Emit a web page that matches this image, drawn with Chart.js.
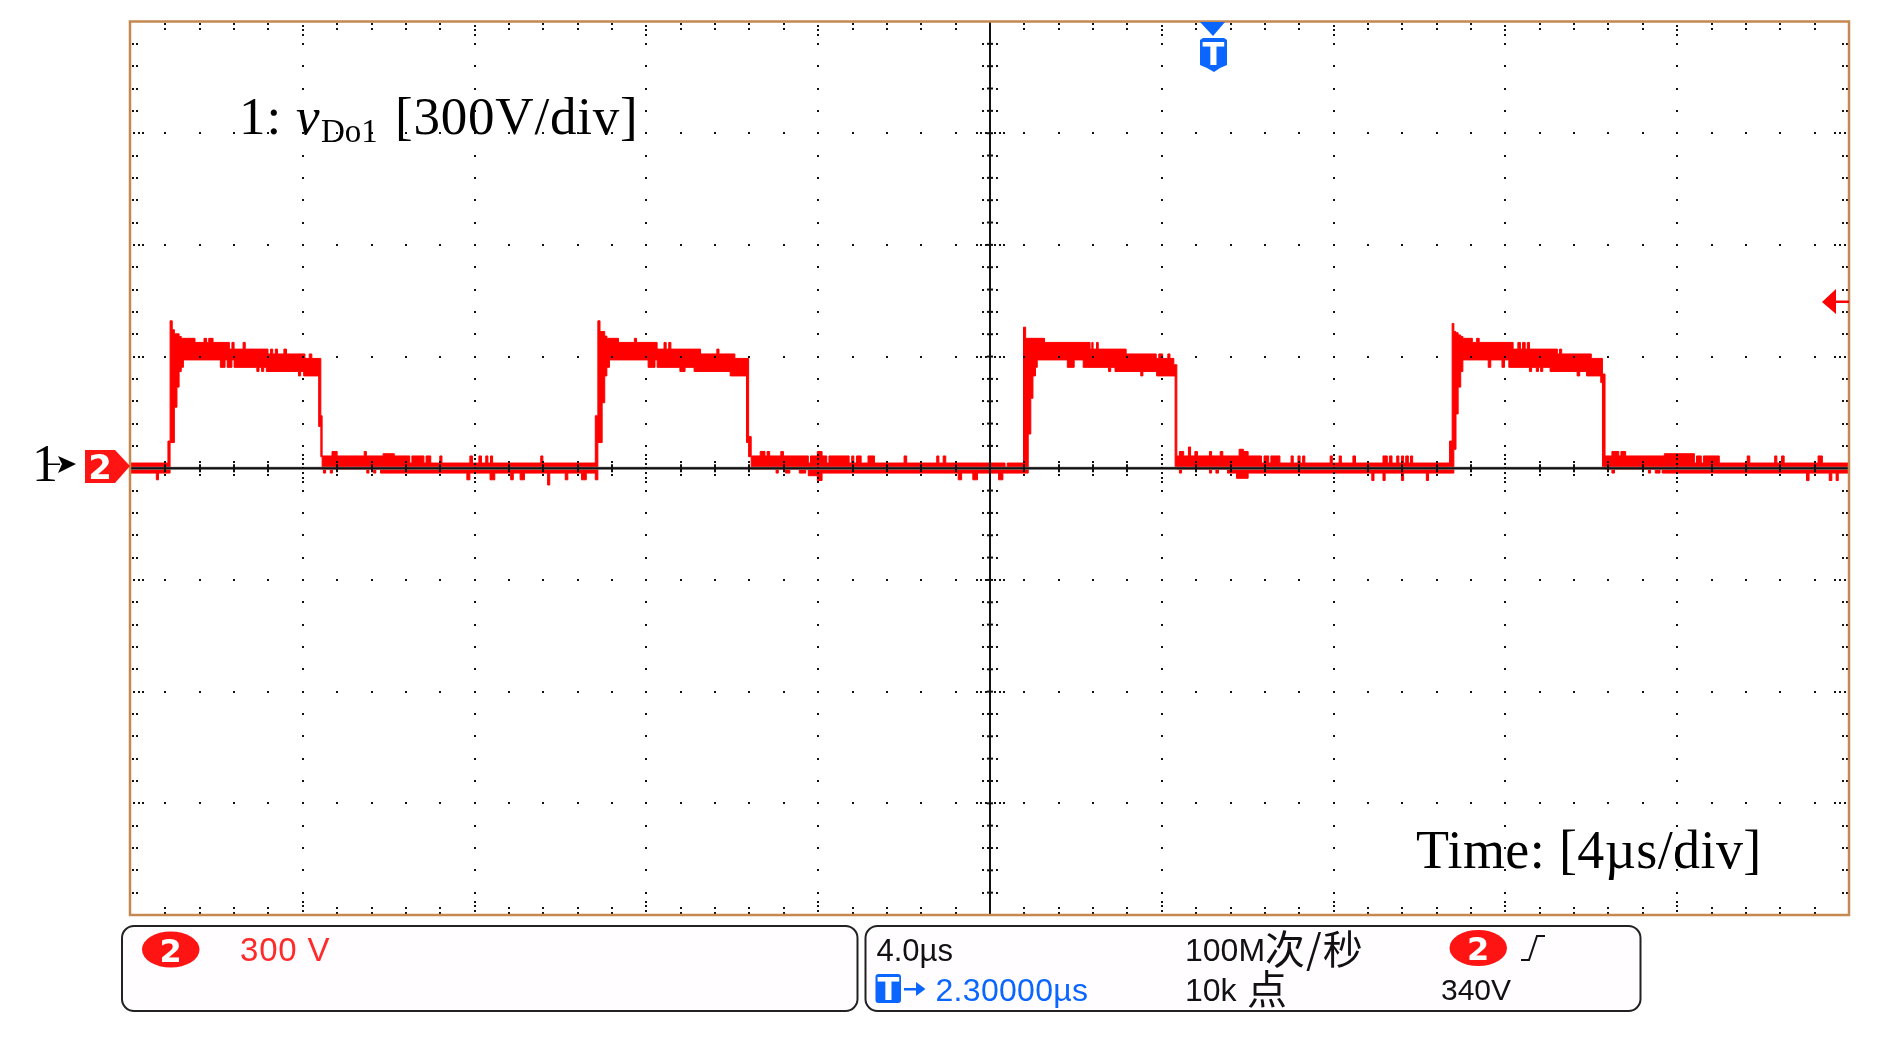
<!DOCTYPE html>
<html><head><meta charset="utf-8">
<style>html,body{margin:0;padding:0;background:#fff}canvas{display:block}</style>
<script src="https://cdn.jsdelivr.net/npm/chart.js@4"></script>
</head><body><canvas id="c" width="1886" height="1045"></canvas>
<script>
// Envelope of the persisted trace. Time in µs, voltage in V. Each value holds until the next time.
const upperTime = [-20,-19.14,-19.09,-19.04,-18.99,-18.88,-18.83,-18.51,-18.30,-18.24,-18.19,-18.09,-17.71,-17.65,-17.60,-17.39,-17.34,-16.81,-16.75,-16.70,-16.64,-16.59,-16.44,-16.38,-15.95,-15.85,-15.79,-15.58,-15.55,
 -15.32,-15.20,-14.57,-14.52,-14.13,-13.87,-13.51,-13.46,-13.18,-13.13,-13.02,-12.81,-12.76,-12.11,-12.05,-11.90,-11.84,-11.74,-11.69,-11.63,-11.58,-10.46,-10.41,
 -9.19,-9.13,-9.08,-8.97,-8.92,-8.65,-8.28,-8.23,-7.75,-7.59,-7.54,-7.48,-7.43,-6.74,-6.36,-6.31,-5.94,-5.62,-5.56,
 -5.35,-5.24,-5.19,-5.13,-4.87,-4.81,-4.23,-4.18,-4.02,-3.91,-3.80,-3.75,-3.28,-3.22,-3.17,-3.11,-3.00,-2.84,-2.69,-2.00,-1.94,-1.24,-1.19,-1.09,-1.03,0.35,0.40,
 0.78,0.83,1.27,2.33,2.37,2.40,2.48,2.52,3.17,3.87,3.93,4.02,4.14,4.19,4.28,4.35,
 4.41,4.51,4.62,4.67,4.77,4.83,5.11,5.16,5.36,5.42,5.80,5.90,6.01,6.32,6.38,6.49,6.54,6.75,7.01,7.06,7.17,7.22,7.28,7.33,7.92,7.97,8.13,8.18,8.45,8.51,9.15,9.25,9.30,9.36,9.47,9.52,9.58,9.63,9.68,9.74,9.79,9.84,
 10.70,10.76,10.80,10.85,10.90,10.96,11.01,11.23,11.33,11.39,12.18,12.29,12.35,12.40,12.46,12.51,12.56,13.21,13.26,13.31,14.00,14.26,14.32,
 14.48,14.64,14.69,14.80,15.70,16.40,16.45,16.56,16.61,16.98,17.63,17.69,18.27,18.32,18.43,18.49,19.28,19.38,20];
const upperVolts = [14,73,396,372,361,354,349,338,349,338,349,338,320,338,320,338,320,307,320,307,320,307,320,307,295,307,295,141,33,
 45,33,45,33,39,33,14,33,14,33,14,33,14,33,14,33,14,33,14,33,14,33,14,
 141,396,367,355,349,338,349,338,320,338,320,338,320,307,320,307,295,85,33,
 45,33,45,33,45,33,14,33,45,33,14,33,14,33,14,33,14,33,14,33,14,33,14,33,14,3,14,
 379,349,338,320,338,320,338,320,307,295,307,295,307,295,278,33,
 45,33,57,33,45,33,45,33,45,33,51,45,33,14,33,14,33,14,33,14,33,14,33,14,33,14,33,14,33,14,33,14,33,14,33,14,33,14,33,14,33,14,
 73,389,367,364,358,354,349,338,349,338,320,338,320,338,320,338,320,307,320,307,295,253,33,
 45,33,45,33,39,14,33,14,33,14,33,14,33,14,33,14,33,14,14];
const lowerTime = [-20,-19.41,-19.36,-19.09,-18.99,-18.93,-18.88,-18.83,-18.78,-17.92,-17.81,-17.76,-17.65,-17.60,-17.07,-17.02,-16.96,-16.91,-16.85,-16.10,-16.05,-15.98,-15.63,-15.58,-15.55,
 -15.52,-15.47,-15.36,-15.31,-14.51,-14.46,-14.35,-14.30,-14.19,-12.18,-12.11,-11.64,-11.53,-11.16,-11.10,-10.94,-10.84,-10.30,-10.25,-9.89,-9.83,-9.51,-9.40,-9.19,
 -9.13,-9.03,-8.97,-8.92,-8.86,-7.96,-7.80,-7.75,-7.22,-7.10,-6.89,-6.05,-5.67,-5.62,-5.56,
 -4.98,-4.93,-4.76,-4.66,-4.44,-4.29,-4.23,-4.02,-3.91,-0.74,-0.66,-0.40,-0.29,0.20,0.30,
 0.89,0.95,1.00,1.06,1.10,1.80,1.96,2.17,2.76,2.81,2.91,3.51,3.56,3.88,4.31,4.36,
 4.41,4.46,5.11,5.16,5.26,5.32,5.53,5.74,6.01,8.89,8.94,9.15,9.20,9.58,9.63,10.16,10.21,
 10.80,10.85,10.90,10.96,11.01,11.60,11.66,11.92,11.98,12.08,12.56,12.61,12.72,12.77,12.82,12.87,13.04,13.67,13.73,13.89,14.22,14.26,14.32,
 14.48,14.54,15.33,15.38,15.49,15.60,15.65,19.01,19.07,19.54,19.60,19.70,19.75,20];
const lowerVolts = [-13,-31,-13,69,164,218,260,271,291,271,291,271,291,271,260,271,260,271,260,248,260,248,112,31,-3,
 -13,-3,-13,-3,-13,-3,-13,-3,-13,-31,-13,-31,-13,-31,-13,-31,-13,-45,-13,-31,-13,-31,-13,-31,
 69,176,248,271,291,271,291,271,260,271,260,248,69,31,-3,
 -13,-3,-13,-3,-13,-3,-20,-33,-13,-31,-13,-31,-13,-31,-13,
 92,188,248,271,291,271,291,271,260,271,260,248,260,248,4,-3,
 -13,-3,-13,-3,-13,-3,-13,-27,-13,-33,-13,-33,-13,-33,-13,-33,-13,
 51,146,218,260,291,271,291,271,291,271,260,271,260,271,260,271,260,248,260,248,230,4,-3,
 -13,-3,-13,-3,-13,-3,-13,-33,-13,-33,-13,-33,-13,-13];
// Screen divisions: 4 µs/div across, 300 V/div up.
const xMajorTicks = [-20,-16,-12,-8,-4,0,4,8,12,16,20];
const yMajorTicks = [1200,900,600,300,0,-300,-600,-900,-1200];
const minorPerDiv = 5;
const RED = '#ff0000', BLUE = '#0a66ff', BORDER = '#c58850', INK = '#111111';

function pts(xs, ys){ return xs.map((x,i)=>({x, y:ys[i]})); }

function minorList(ticks){
  const out=[];
  for(let i=0;i<ticks.length-1;i++) for(let k=0;k<minorPerDiv;k++)
    out.push({v:ticks[i]+(ticks[i+1]-ticks[i])*k/minorPerDiv, major:k===0, first:i===0&&k===0});
  out.push({v:ticks[ticks.length-1], major:true});
  return out;
}

const screenGrid = {
  id:'screenGrid',
  afterDatasetsDraw(chart){
    const {ctx, chartArea:a, scales:{x,y}} = chart;
    const dot=(px,py)=>{ctx.fillRect(Math.round(px)-1,Math.round(py)-1,2,2);};
    const xs=minorList(xMajorTicks).map(t=>({...t,p:x.getPixelForValue(t.v)}));
    const ys=minorList(yMajorTicks).map(t=>({...t,p:y.getPixelForValue(t.v)}));
    const cx=x.getPixelForValue(0), cy=y.getPixelForValue(0);
    ctx.save();
    ctx.fillStyle='#8a8a8a'; ctx.fillRect(a.left,cy-1.5,a.right-a.left,3);
    ctx.fillStyle=INK;
    ctx.fillRect(a.left,cy-1,a.right-a.left,2);
    ctx.fillRect(cx-1,a.top,2,a.bottom-a.top);
    for(const t of xMajorTicks){
      if(t===xMajorTicks[0]||t===xMajorTicks[10]||t===0) continue;
      const px=x.getPixelForValue(t);
      for(const m of ys){ if(m.p>a.top+5&&m.p<a.bottom-5) dot(px,m.p); }
    }
    for(const t of yMajorTicks){
      if(t===yMajorTicks[0]||t===yMajorTicks[8]||t===0) continue;
      const py=y.getPixelForValue(t);
      for(const m of xs){ if(m.p>a.left+5&&m.p<a.right-5) dot(m.p,py); }
    }
    for(const m of xs){
      if(m.p<a.left+5||m.p>a.right-5||m.v===0) continue;
      if(m.major){
        [4,8.5,13].forEach(d=>dot(m.p,a.top+d));
        [-13,-9,-4.5].forEach(d=>dot(m.p,a.bottom+d));
        [-13,-9,-4].forEach(d=>dot(m.p,cy+d));
        [4.5,9.5,14].forEach(d=>dot(m.p,cy+d));
      }else{
        [2,7].forEach(d=>dot(m.p,a.top+d));
        [-7,-2.5].forEach(d=>dot(m.p,a.bottom+d));
        ctx.fillRect(Math.round(m.p)-1,cy-4,2,8);
        dot(m.p,cy-6.5); dot(m.p,cy+7);
      }
    }
    for(const m of ys){
      if(m.p<a.top+5||m.p>a.bottom-5||m.v===0) continue;
      if(m.major){
        [3,7.5,12].forEach(d=>dot(a.left+d,m.p));
        [-14,-9,-4].forEach(d=>dot(a.right+d,m.p));
        [-13.5,-9.5,-4,5,9.5,14].forEach(d=>dot(cx+d,m.p));
        ctx.fillRect(cx-3,m.p-1,6,2);
      }else{
        [1.5,6].forEach(d=>dot(a.left+d,m.p));
        [-6.5,-2].forEach(d=>dot(a.right+d,m.p));
        dot(cx-7,m.p); dot(cx+7,m.p);
        ctx.fillRect(cx-3,m.p-1,6,2);
      }
    }
    ctx.strokeStyle=BORDER; ctx.lineWidth=2.5;
    ctx.strokeRect(a.left-1,a.top,a.right-a.left+1,a.bottom-a.top);
    ctx.restore();
  }
};

function text(ctx,s,px,py,font,color,align,spacing){
  ctx.font=font; ctx.fillStyle=color; ctx.textAlign=align||'left'; ctx.textBaseline='alphabetic';
  ctx.letterSpacing=(spacing||0)+'px';
  ctx.fillText(s,px,py);
  ctx.letterSpacing='0px';
}
function poly(ctx,p,color){
  ctx.fillStyle=color; ctx.beginPath();
  p.forEach((q,i)=>i?ctx.lineTo(q[0],q[1]):ctx.moveTo(q[0],q[1]));
  ctx.closePath(); ctx.fill();
}
function pill(ctx,x0,x1,y0,y1){
  ctx.fillStyle='#ff1414'; ctx.beginPath();
  ctx.ellipse((x0+x1)/2,(y0+y1)/2,(x1-x0)/2,(y1-y0)/2,0,0,Math.PI*2); ctx.fill();
  text(ctx,'2',(x0+x1)/2,y1-6,'bold 32px "DejaVu Sans"','#ffffff','center');
}
const SERIF='"Liberation Serif"', SANS='"Liberation Sans"', CJK='"Noto Sans CJK SC"';

const annotations = {
  id:'annotations',
  afterDraw(chart){
    const ctx=chart.ctx;
    ctx.save();
    text(ctx,'1:',239,134,'53px '+SERIF,'#000','left',1);
    text(ctx,'v',296,134,'italic 53px '+SERIF,'#000');
    text(ctx,'Do1',321,142,'33px '+SERIF,'#000');
    text(ctx,'[300V/div]',395,134,'53px '+SERIF,'#000','left',0.8);
    text(ctx,'Time: [4µs/div]',1416,868,'54px '+SERIF,'#000','left',0.4);
    text(ctx,'1',32,481,'52px '+SERIF,'#000');
    ctx.fillStyle='#000'; ctx.fillRect(46,463.5,14,1.5);
    poly(ctx,[[58,456],[76,464],[58,473],[62,464]],'#000');
    poly(ctx,[[85,450],[115,450],[130,466],[115,483],[85,483]],'#ff1414');
    text(ctx,'2',100,479,'bold 34px "DejaVu Sans"','#ffffff','center');
    poly(ctx,[[1200,22],[1225,22],[1213,36]],BLUE);
    poly(ctx,[[1200,40],[1203,38],[1224,38],[1227,40],[1227,65],[1220,68],[1214,72],[1207,68],[1200,65]],BLUE);
    text(ctx,'T',1213.5,65,'bold 32px "DejaVu Sans"','#ffffff','center');
    poly(ctx,[[1822,302],[1836,289],[1836,314]],RED);
    ctx.fillStyle=RED; ctx.fillRect(1836,300.5,13,2.5);
    ctx.strokeStyle='#222'; ctx.lineWidth=2;
    [[122,857.5],[865.5,1640.5]].forEach(([l,r])=>{
      ctx.beginPath(); ctx.roundRect(l,926,r-l,85,12); ctx.fillStyle='#fffdff'; ctx.fill(); ctx.stroke();
    });
    pill(ctx,142,199.5,931.5,967.5);
    text(ctx,'300 V',240,961,'33px '+SANS,'#ff2a2a','left',0.8);
    text(ctx,'4.0µs',876.5,961,'31px '+SANS,'#111');
    text(ctx,'100M',1185,961,'32px '+SANS,'#111');
    text(ctx,'次/秒',1265,964,'40px '+CJK,'#111','left',1);
    pill(ctx,1449.5,1507,930,966);
    ctx.strokeStyle='#111'; ctx.lineWidth=2;
    ctx.beginPath(); ctx.moveTo(1521,960); ctx.lineTo(1529,960); ctx.lineTo(1537,936); ctx.lineTo(1545,936); ctx.stroke();
    ctx.fillStyle=BLUE; ctx.beginPath(); ctx.roundRect(875.5,974,25.5,29,3); ctx.fill();
    text(ctx,'T',888.3,1000,'bold 32px "DejaVu Sans"','#ffffff','center');
    ctx.fillStyle=BLUE; ctx.fillRect(904,988,13,2.5);
    poly(ctx,[[916,982],[925.5,989],[916,996]],BLUE);
    text(ctx,'2.30000µs',935.5,1001,'32px '+SANS,BLUE,'left',0.3);
    text(ctx,'10k',1185,1001,'32px '+SANS,'#111');
    text(ctx,'点',1247,1004,'40px '+CJK,'#111');
    text(ctx,'340V',1441,1000,'30px '+SANS,'#111');
    ctx.restore();
  }
};

new Chart(document.getElementById('c'),{
  type:'scatter',
  data:{datasets:[
    {label:'vDo1 upper envelope',data:pts(upperTime,upperVolts),showLine:true,stepped:true,borderColor:RED,borderWidth:1,backgroundColor:RED,pointRadius:0,fill:'+1',tension:0},
    {label:'vDo1 lower envelope',data:pts(lowerTime,lowerVolts),showLine:true,stepped:true,borderColor:RED,borderWidth:1,backgroundColor:RED,pointRadius:0,fill:false,tension:0}
  ]},
  options:{
    responsive:false,animation:false,
    devicePixelRatio:1,
    layout:{padding:{left:131,right:37,top:21.5,bottom:130}},
    plugins:{legend:{display:false},tooltip:{enabled:false},title:{display:false}},
    scales:{
      x:{type:'linear',min:-20,max:20,display:false},
      y:{type:'linear',min:-1200,max:1200,display:false}
    }
  },
  plugins:[screenGrid,annotations]
});
</script></body></html>
